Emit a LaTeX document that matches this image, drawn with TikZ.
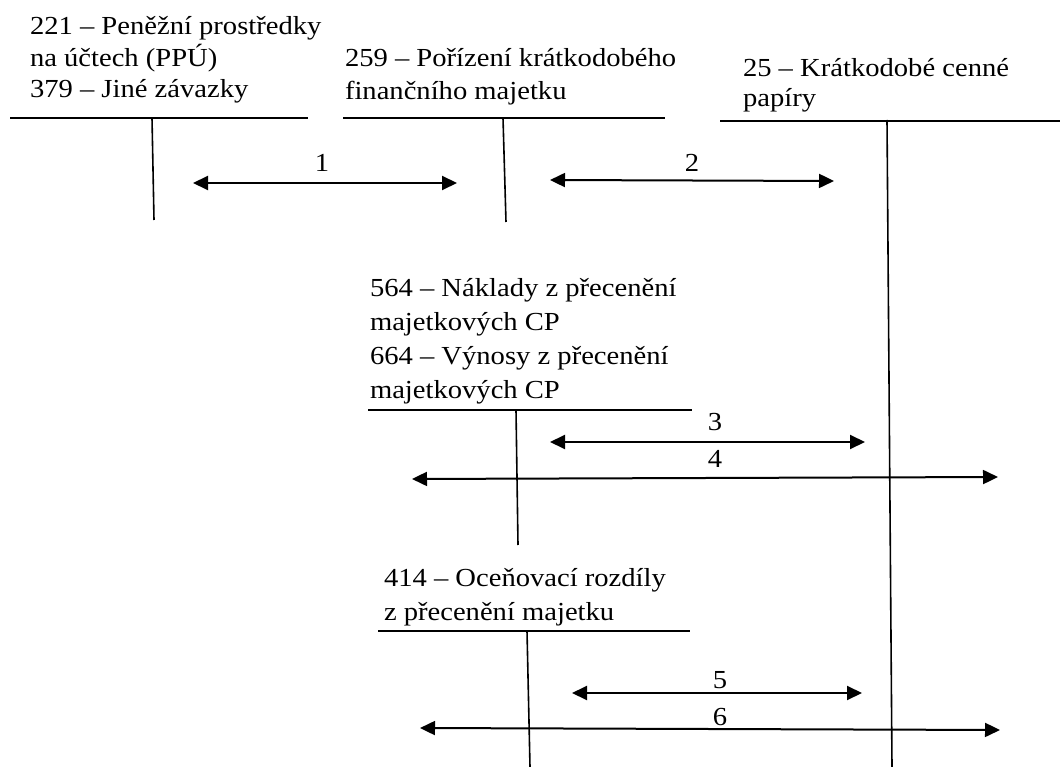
\documentclass[tikz,border=0pt]{standalone}
\usepackage{fontspec}
\setmainfont{Liberation Serif}[FakeStretch=1.1]
\usetikzlibrary{arrows.meta}

% T-accounts with numbered double-headed posting arrows
\newcommand\acctsize[1]{\fontsize{26}{#1}\selectfont}

\tikzset{
  tline/.style={line width=1.8pt},
  vline/.style={line width=1.6pt},
  post/.style={line width=2pt,
    {Triangle[length=15pt,width=14pt]}-{Triangle[length=15pt,width=14pt]}},
  acctname/.style={anchor=base west, inner sep=0pt, outer sep=0pt},
  postno/.style={anchor=base, inner sep=0pt, font=\acctsize{31}},
}

\begin{document}
\begin{tikzpicture}[x=1pt, y=-1pt]
\useasboundingbox (0,0) rectangle (1060,767);

% ---- account names ----
\node[acctname, font=\acctsize{31}] (n221) at (30,35)
  {\begin{tabular}[t]{@{}l@{}}221 – Peněžní prostředky\\na účtech (PPÚ)\\379 – Jiné závazky\end{tabular}};
\node[acctname, font=\acctsize{33}] (n259) at (345,67)
  {\begin{tabular}[t]{@{}l@{}}259 – Pořízení krátkodobého\\finančního majetku\end{tabular}};
\node[acctname, font=\acctsize{30}] (n25) at (743,77)
  {\begin{tabular}[t]{@{}l@{}}25 – Krátkodobé cenné\\papíry\end{tabular}};
\node[acctname, font=\acctsize{33.7}] (n564) at (370,297)
  {\begin{tabular}[t]{@{}l@{}}564 – Náklady z přecenění\\majetkových CP\\664 – Výnosy z přecenění\\majetkových CP\end{tabular}};
\node[acctname, font=\acctsize{34}] (n414) at (384,586)
  {\begin{tabular}[t]{@{}l@{}}414 – Oceňovací rozdíly\\z přecenění majetku\end{tabular}};

% ---- T-account frames ----
\coordinate (a1l) at (10,118);  \coordinate (a1r) at (308,118);
\coordinate (a1t) at (152,118); \coordinate (a1b) at (154,220);
\coordinate (a2l) at (343,118); \coordinate (a2r) at (665,118);
\coordinate (a2t) at (503,118); \coordinate (a2b) at (506,222);
\coordinate (a3l) at (720,121); \coordinate (a3r) at (1060,121);
\coordinate (a3t) at (887,120); \coordinate (a3b) at (892,767);
\coordinate (a4l) at (368,410); \coordinate (a4r) at (692,410);
\coordinate (a4t) at (516,410); \coordinate (a4b) at (518,545);
\coordinate (a5l) at (378,631); \coordinate (a5r) at (690,631);
\coordinate (a5t) at (527,631); \coordinate (a5b) at (530,767);

\foreach \k in {1,...,5} {
  \draw[tline] (a\k l) -- (a\k r);
  \draw[vline] (a\k t) -- (a\k b);
}

% ---- posting arrows ----
\coordinate (p1a) at (193,183); \coordinate (p1b) at (457,183);
\coordinate (p2a) at (550,180); \coordinate (p2b) at (834,181);
\coordinate (p3a) at (550,442); \coordinate (p3b) at (865,442);
\coordinate (p4a) at (412,479); \coordinate (p4b) at (998,477);
\coordinate (p5a) at (572,693); \coordinate (p5b) at (862,693);
\coordinate (p6a) at (420,728); \coordinate (p6b) at (1000,730);

\foreach \k in {1,...,6} {
  \draw[post] (p\k a) -- (p\k b);
}

% ---- posting numbers ----
\node[postno] (t1) at (322,172) {1};
\node[postno] (t2) at (692,172) {2};
\node[postno] (t3) at (715,430) {3};
\node[postno] (t4) at (715,467) {4};
\node[postno] (t5) at (720,688) {5};
\node[postno] (t6) at (720,725) {6};

\end{tikzpicture}
\end{document}
